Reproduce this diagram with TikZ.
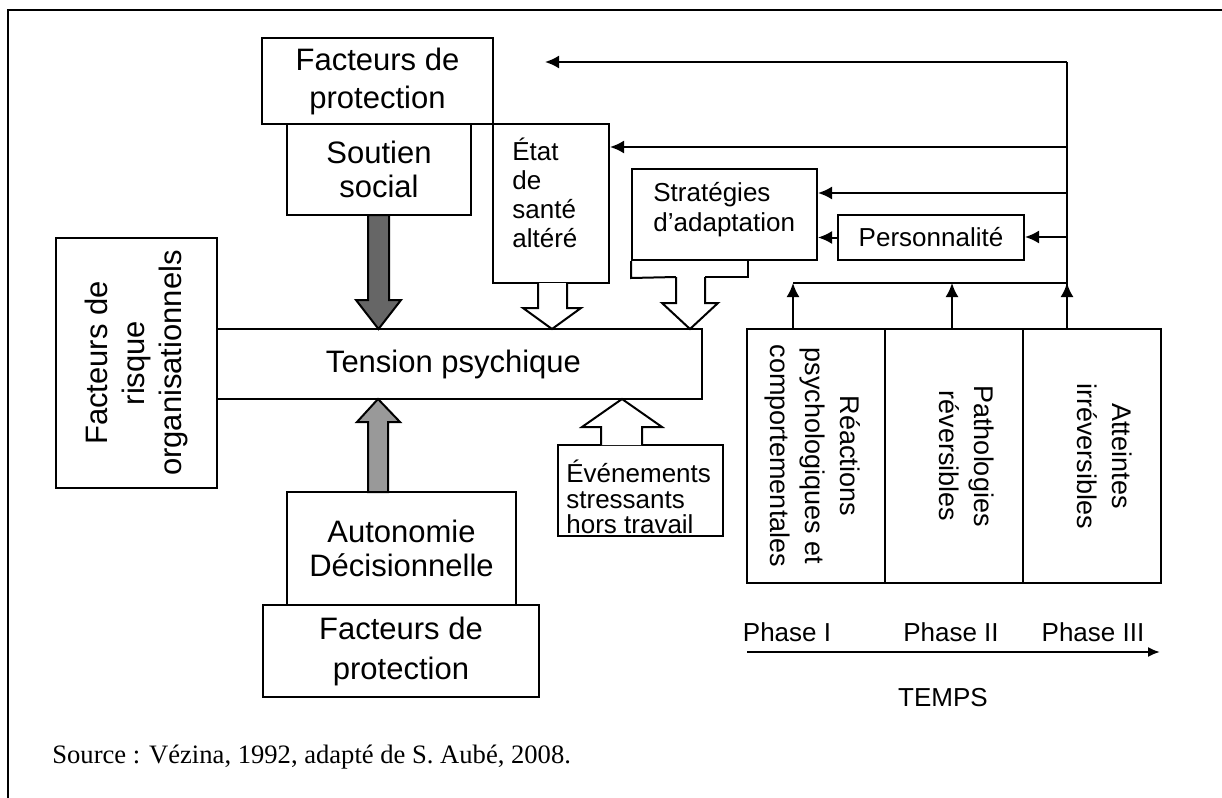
\documentclass[tikz,border=0pt]{standalone}
\usepackage{fontspec}
\setmainfont{Liberation Sans}
\newfontfamily\serifsrc{Liberation Serif}
\usetikzlibrary{fit,arrows.meta}
\begin{document}
\begin{tikzpicture}[x=0.5pt,y=-0.5pt,
  box/.style={draw, line width=1pt, inner sep=0pt, fill=white},
  txt/.style={inner sep=0pt, align=center},
  big/.style={font=\fontsize{15.5}{18}\selectfont},
  mid/.style={font=\fontsize{13}{15}\selectfont},
  ph/.style={font=\fontsize{13.5}{17.5}\selectfont, align=center, inner sep=0pt},
  fb/.style={line width=1pt, -{Latex[length=7pt,width=6.5pt]}},
  hollow/.style={draw, line width=1pt, fill=white, line join=miter},
  frame/.style={line width=1pt},
]
\useasboundingbox (0,0) rectangle (1222,798);
% outer frame
\draw[frame] (1222,10) -- (8,10) -- (8,798);

% boxes
\node[box, fit={(262,38)(493,124)}] (fp1) {};
\node[txt, font=\fontsize{15.5}{19}\selectfont] (fp1t) at (fp1.center) {Facteurs de\\protection};
\node[box, fit={(287,124)(471,215)}] (sout) {};
\node[txt, font=\fontsize{15.5}{17}\selectfont] (soutt) at (sout.center) {Soutien\\social};
\node[box, fit={(493,124)(609,283)}] (etat) {};
\node[mid, align=left, anchor=west, inner sep=0pt, font=\fontsize{13}{14.5}\selectfont] (etatt) at (512,193) {État\\de\\santé\\altéré};
\node[box, fit={(632,169)(817,260)}] (strat) {};
\node[mid, align=left, anchor=west, inner sep=0pt] (stratt) at (653,210) {Stratégies\\d’adaptation};
\node[box, fit={(838,215)(1024,260)}] (pers) {};
\node[txt, mid] (perst) at (pers.center) {Personnalité};
\node[box, fit={(217,329)(702,399)}] (tens) {};
\node[txt, big] (tenst) at ([xshift=-3pt]tens.center) {Tension psychique};
\node[box, fit={(56,238)(217,488)}] (risk) {};
\node[txt, rotate=90, font=\fontsize{15.5}{18.5}\selectfont] (riskt) at (risk.center) {Facteurs de\\risque\\organisationnels};
\node[box, fit={(558,445)(723,536)}] (even) {};
\node[align=left, anchor=west, inner sep=0pt, font=\fontsize{13}{12.8}\selectfont] (event) at (566,497) {Événements\\stressants\\hors travail};
\node[box, fit={(747,329)(885,583)}] (ph1) {};
\node[box, fit={(885,329)(1023,583)}] (ph2) {};
\node[box, fit={(1023,329)(1161,583)}] (ph3) {};
\node[ph, rotate=-90] (ph1t) at (813,456) {Réactions\\psychologiques et\\comportementales};
\node[ph, rotate=-90] (ph2t) at (967,456) {Pathologies\\réversibles};
\node[ph, rotate=-90] (ph3t) at (1105,456) {Atteintes\\irréversibles};
\node[box, fit={(287,492)(516,605)}] (auto) {};
\node[txt, font=\fontsize{15.5}{17}\selectfont] (autot) at (auto.center) {Autonomie\\Décisionnelle};
\node[box, fit={(263,605)(539,697)}] (fp2) {};
\node[txt, font=\fontsize{15.5}{20}\selectfont] (fp2t) at (fp2.center) {Facteurs de\\protection};

% base under strategies
\draw[line width=1pt] (strat.south west) -- ++(0,17) -- (676,277);
\draw[line width=1pt] (705,277) -- (748,277) -- (748,260);

% block arrows
\fill[black!60, draw=black, line width=1pt] (368,215) -- (368,300) -- (356,300) -- (378.5,329) -- (401,300) -- (389,300) -- (389,215) -- cycle;
\fill[black!40, draw=black, line width=1pt] (368,492) -- (368,422) -- (357,422) -- (378,399) -- (400,422) -- (388,422) -- (388,492) -- cycle;
\draw[hollow] (538,283) -- (538,308) -- (523,308) -- (552,329) -- (581,308) -- (567,308) -- (567,283);
\draw[hollow] (676,277) -- (676,303) -- (662,303) -- (690,329) -- (718,303) -- (705,303) -- (705,277);
\draw[hollow] (601,445) -- (601,427) -- (582,427) -- (622,399) -- (662,427) -- (642,427) -- (642,445);

% feedback connectors
\coordinate (v0) at (1067,62);
\coordinate (v1) at (1067,147);
\coordinate (v2) at (1067,193);
\coordinate (v3) at (1067,237);
\coordinate (h0) at (1067,283);
\coordinate (hl) at (793,283);
\coordinate (t0) at (545,62);
\draw[line width=1pt] (v0) -- (ph3.north -| v0);
\draw[line width=1pt] (hl) -- (h0);
\draw[fb] (v0) -- (t0);
\draw[fb] (v1) -- (v1 -| etat.east);
\draw[fb] (v2) -- (v2 -| strat.east);
\draw[fb] (v3) -- (v3 -| pers.east);
\draw[fb] (pers.west) -- (pers.west -| strat.east);
\draw[fb] (hl |- ph1.north) -- (hl);
\draw[fb] (952,329) -- (952,283);
\draw[fb] (ph3.north -| v0) -- (h0);

% time axis
\coordinate (ta) at (747,652);
\coordinate (tb) at (1160,652);
\draw[line width=1pt, -{Latex[length=6pt,width=5pt]}] (ta) -- (tb);
\node[mid] (p1) at (787,632) {Phase I};
\node[mid] (p2) at (951,632) {Phase II};
\node[mid] (p3) at (1093,632) {Phase III};
\node[mid] (temps) at (943,698) {TEMPS};

% source
\node[anchor=base west, inner sep=0pt, font=\serifsrc\fontsize{13.3}{16}\selectfont] (src) at (52,763) {Source : Vézina, 1992, adapté de S. Aubé, 2008.};
\end{tikzpicture}
\end{document}
